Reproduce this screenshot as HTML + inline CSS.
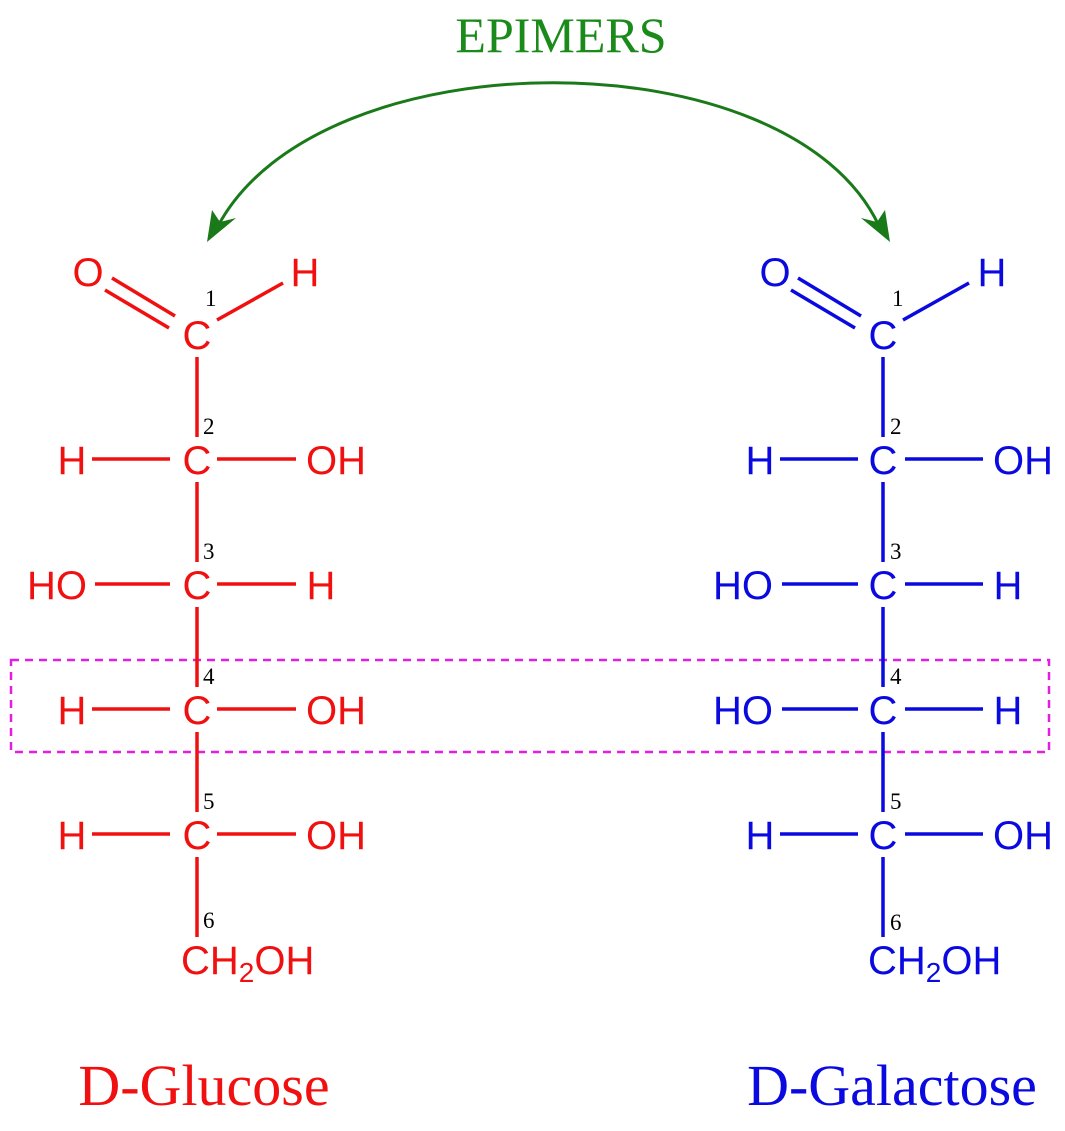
<!DOCTYPE html>
<html><head><meta charset="utf-8"><style>
html,body{margin:0;padding:0;background:#fff;}
svg{display:block;}
.s{font-family:"Liberation Sans",sans-serif;font-size:40px;}
.n{font-family:"Liberation Serif",serif;font-size:23px;fill:#000;}
</style></head><body>
<svg width="1065" height="1131" viewBox="0 0 1065 1131" xmlns="http://www.w3.org/2000/svg">
<text x="561" y="52" text-anchor="middle" font-family="Liberation Serif,serif" font-size="50" fill="#1a8a1a">EPIMERS</text>
<path d="M 218 226 C 320 35, 790 35, 879 226" fill="none" stroke="#1a7a1a" stroke-width="3"/>
<polygon points="207,242 212,210 220,222 236,218" fill="#1a7a1a"/>
<polygon points="890,242 885,210 877,222 861,218" fill="#1a7a1a"/>

<rect x="11" y="660" width="1038" height="92" fill="none" stroke="#e020e0" stroke-width="2.5" stroke-dasharray="8,6"/>

<g stroke="#f01010" stroke-width="3.5" fill="#f01010">
<line x1="112" y1="278" x2="175" y2="316"/>
<line x1="105" y1="290" x2="169" y2="328"/>
<line x1="217" y1="320" x2="283" y2="283"/>
<line x1="197" y1="357" x2="197" y2="437"/>
<line x1="197" y1="482" x2="197" y2="562"/>
<line x1="197" y1="607" x2="197" y2="687"/>
<line x1="197" y1="732" x2="197" y2="812"/>
<line x1="197" y1="857" x2="197" y2="937"/>
<line x1="92" y1="459" x2="170" y2="459"/><line x1="217" y1="459" x2="296" y2="459"/>
<line x1="95" y1="584" x2="170" y2="584"/><line x1="217" y1="584" x2="296" y2="584"/>
<line x1="92" y1="709" x2="170" y2="709"/><line x1="217" y1="709" x2="296" y2="709"/>
<line x1="92" y1="834" x2="170" y2="834"/><line x1="217" y1="834" x2="296" y2="834"/>
<g stroke="none" class="s">
<text x="88" y="286" text-anchor="middle">O</text>
<text x="305" y="286" text-anchor="middle">H</text>
<text x="197" y="349" text-anchor="middle">C</text>
<text x="72" y="474" text-anchor="middle">H</text><text x="197" y="474" text-anchor="middle">C</text><text x="336" y="474" text-anchor="middle">OH</text>
<text x="57" y="599" text-anchor="middle">HO</text><text x="197" y="599" text-anchor="middle">C</text><text x="321" y="599" text-anchor="middle">H</text>
<text x="72" y="724" text-anchor="middle">H</text><text x="197" y="724" text-anchor="middle">C</text><text x="336" y="724" text-anchor="middle">OH</text>
<text x="72" y="849" text-anchor="middle">H</text><text x="197" y="849" text-anchor="middle">C</text><text x="336" y="849" text-anchor="middle">OH</text>
<text x="181" y="974">CH<tspan font-size="28" dy="8">2</tspan><tspan dy="-8">OH</tspan></text>
</g>
</g>
<g class="n">
<text x="205" y="306">1</text><text x="203" y="434">2</text><text x="203" y="559">3</text><text x="203" y="684">4</text><text x="203" y="809">5</text><text x="203" y="928">6</text>
</g>

<g stroke="#0a0ae0" stroke-width="3.5" fill="#0a0ae0">
<line x1="798" y1="278" x2="861" y2="316"/>
<line x1="791" y1="290" x2="855" y2="328"/>
<line x1="903" y1="320" x2="969" y2="283"/>
<line x1="883" y1="357" x2="883" y2="437"/>
<line x1="883" y1="482" x2="883" y2="562"/>
<line x1="883" y1="607" x2="883" y2="687"/>
<line x1="883" y1="732" x2="883" y2="812"/>
<line x1="883" y1="857" x2="883" y2="937"/>
<line x1="780" y1="459" x2="858" y2="459"/><line x1="905" y1="459" x2="983" y2="459"/>
<line x1="782" y1="584" x2="858" y2="584"/><line x1="905" y1="584" x2="983" y2="584"/>
<line x1="782" y1="709" x2="858" y2="709"/><line x1="905" y1="709" x2="983" y2="709"/>
<line x1="780" y1="834" x2="858" y2="834"/><line x1="905" y1="834" x2="983" y2="834"/>
<g stroke="none" class="s">
<text x="775" y="286" text-anchor="middle">O</text>
<text x="992" y="286" text-anchor="middle">H</text>
<text x="883" y="349" text-anchor="middle">C</text>
<text x="760" y="474" text-anchor="middle">H</text><text x="883" y="474" text-anchor="middle">C</text><text x="1023" y="474" text-anchor="middle">OH</text>
<text x="743" y="599" text-anchor="middle">HO</text><text x="883" y="599" text-anchor="middle">C</text><text x="1008" y="599" text-anchor="middle">H</text>
<text x="743" y="724" text-anchor="middle">HO</text><text x="883" y="724" text-anchor="middle">C</text><text x="1008" y="724" text-anchor="middle">H</text>
<text x="760" y="849" text-anchor="middle">H</text><text x="883" y="849" text-anchor="middle">C</text><text x="1023" y="849" text-anchor="middle">OH</text>
<text x="868" y="974">CH<tspan font-size="28" dy="8">2</tspan><tspan dy="-8">OH</tspan></text>
</g>
</g>
<g class="n">
<text x="892" y="306">1</text><text x="890" y="434">2</text><text x="890" y="559">3</text><text x="890" y="684">4</text><text x="890" y="809">5</text><text x="890" y="930">6</text>
</g>

<text x="204" y="1105" text-anchor="middle" font-family="Liberation Serif,serif" font-size="58" fill="#f01010">D-Glucose</text>
<text x="892" y="1105" text-anchor="middle" font-family="Liberation Serif,serif" font-size="58" fill="#0a0ae0">D-Galactose</text>
</svg>
</body></html>
